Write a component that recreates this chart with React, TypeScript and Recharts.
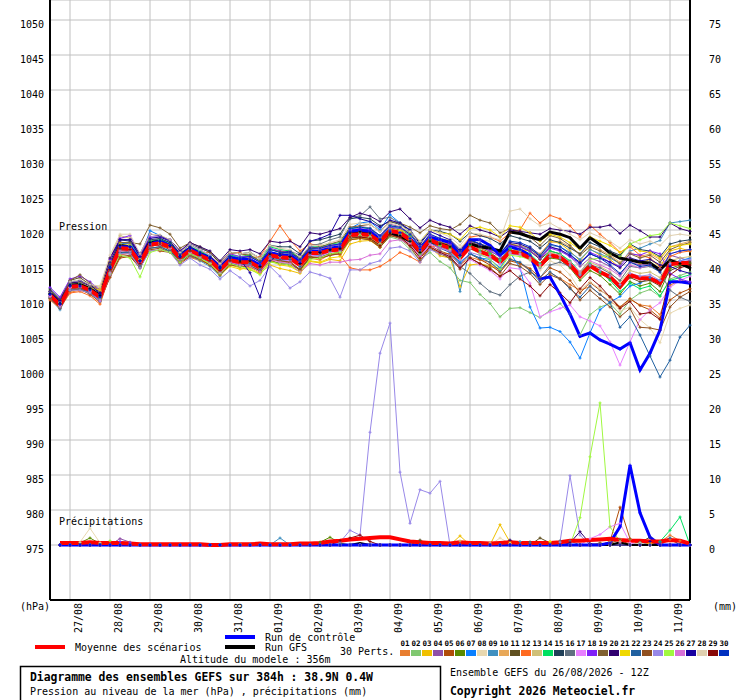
import { ComposedChart, Line, XAxis, YAxis, CartesianGrid } from 'recharts'

const MONO = '"DejaVu Sans Mono", "Liberation Mono", monospace'

// 6-hourly steps from 26/08 12Z (65 points, 384h)
const DATE_TICKS = [2, 6, 10, 14, 18, 22, 26, 30, 34, 38, 42, 46, 50, 54, 58, 62]
const DATE_LABELS = ['27/08', '28/08', '29/08', '30/08', '31/08', '01/09', '02/09', '03/09', '04/09', '05/09', '06/09', '07/09', '08/09', '09/09', '10/09', '11/09']
const PRESSURE_TICKS = [975, 980, 985, 990, 995, 1000, 1005, 1010, 1015, 1020, 1025, 1030, 1035, 1040, 1045, 1050]
const PRECIP_TICKS = [0, 5, 10, 15, 20, 25, 30, 35, 40, 45, 50, 55, 60, 65, 70, 75]

const PERT_COLORS = [
  '#e87e30', '#80c870', '#f0c000', '#9050a8', '#b04c08', '#5a8a00', '#0a80ff', '#e8d8b0', '#4090c0', '#e8a858',
  '#605020', '#ff6a20', '#d0c078', '#00e060', '#204058', '#607080', '#e880ff', '#8020f8', '#806030', '#300070',
  '#f0d800', '#2060a0', '#905020', '#9888e8', '#a0f840', '#d870d8', '#1800a0', '#e0d0b0', '#880808', '#0030c0',
]

// pression (hPa)
const MEAN_P = [1010.7,1009.3,1011.9,1012.0,1011.4,1010.4,1014.3,1017.4,1017.3,1015.3,1017.9,1018.1,1017.6,1016.0,1017.1,1016.4,1015.7,1014.3,1015.7,1015.4,1015.4,1014.6,1016.4,1016.1,1016.0,1015.0,1016.7,1016.7,1017.1,1017.2,1019.3,1019.4,1019.3,1018.3,1019.9,1019.6,1018.6,1016.9,1018.6,1017.9,1017.4,1016.0,1017.6,1016.9,1016.4,1015.4,1016.9,1016.7,1016.0,1014.9,1016.4,1016.1,1015.0,1013.4,1014.9,1014.0,1013.3,1011.9,1013.6,1013.1,1013.1,1012.4,1015.1,1015.3,1015.3]
const CTRL_P = [1010.8,1009.4,1012.0,1012.0,1011.4,1010.4,1014.6,1017.6,1017.6,1015.6,1018.0,1018.4,1017.8,1016.2,1017.4,1016.6,1016.0,1014.6,1016.0,1015.8,1015.8,1015.0,1016.8,1016.4,1016.4,1015.4,1017.0,1017.0,1017.4,1017.6,1019.8,1020.0,1019.8,1018.6,1019.8,1019.6,1018.8,1017.2,1018.9,1018.6,1018.2,1016.4,1018.6,1018.6,1017.8,1016.4,1017.6,1017.2,1016.4,1013.0,1013.3,1010.8,1008.0,1004.8,1005.3,1004.3,1003.7,1003.0,1003.9,1000.0,1002.4,1005.7,1012.6,1012.6,1012.4]
const GFS_P = [1010.9,1009.5,1012.1,1012.2,1011.6,1010.6,1014.6,1017.8,1017.6,1015.6,1018.2,1018.4,1017.8,1016.2,1017.4,1016.6,1016.0,1014.6,1016.0,1015.6,1015.6,1014.8,1016.6,1016.4,1016.2,1015.2,1016.8,1016.8,1017.2,1017.4,1019.6,1019.8,1019.6,1018.6,1019.6,1019.2,1018.4,1016.8,1018.4,1018.0,1017.6,1016.4,1018.0,1017.6,1017.4,1017.0,1019.7,1019.5,1019.0,1018.6,1019.7,1019.4,1018.9,1017.4,1018.9,1017.9,1016.7,1016.0,1015.7,1015.4,1015.3,1014.3,1015.7,1015.2,1014.6]

const P01 = [1010.2,1009.0,1011.1,1011.4,1010.9,1009.6,1013.5,1016.4,1016.7,1014.8,1017.1,1017.1,1017.0,1015.5,1016.1,1015.6,1015.2,1014.0,1015.7,1014.9,1014.6,1014.2,1015.8,1015.1,1015.5,1014.2,1016.0,1015.7,1016.5,1016.8,1019.8,1019.4,1019.0,1017.8,1020.1,1019.2,1017.8,1016.6,1017.6,1016.7,1016.6,1015.0,1016.1,1015.7,1015.4,1013.9,1015.9,1015.2,1014.2,1012.9,1013.9,1013.1,1012.2,1011.4,1011.9,1010.8,1009.8,1008.9,1010.1,1009.3,1009.1,1007.9,1012.1,1012.8,1012.5]
const P02 = [1010.9,1009.6,1012.3,1012.5,1011.6,1010.1,1013.8,1017.0,1017.5,1015.8,1018.3,1018.5,1017.9,1016.4,1017.3,1016.8,1016.2,1014.9,1016.0,1015.6,1015.0,1014.0,1015.5,1015.3,1015.2,1014.4,1016.0,1016.2,1016.6,1016.9,1018.9,1019.0,1018.8,1017.6,1019.0,1018.6,1017.2,1015.8,1016.8,1015.5,1014.6,1012.8,1012.5,1010.8,1009.5,1007.6,1008.8,1008.9,1008.2,1007.5,1008.5,1009.5,1008.0,1005.0,1007.9,1009.0,1009.5,1008.0,1010.0,1011.0,1011.5,1010.5,1013.0,1013.5,1014.0]
const P03 = [1010.5,1009.0,1011.6,1011.8,1011.9,1011.6,1015.5,1018.2,1018.0,1015.6,1018.0,1018.2,1017.3,1015.6,1016.6,1015.8,1015.0,1013.5,1015.0,1014.6,1014.3,1013.8,1015.0,1014.5,1014.2,1013.8,1015.5,1015.3,1015.8,1015.6,1018.0,1018.4,1018.5,1017.5,1019.5,1019.3,1018.2,1016.0,1017.5,1016.3,1016.0,1011.9,1015.0,1015.2,1014.8,1014.5,1016.8,1017.2,1017.0,1016.2,1018.4,1018.1,1017.0,1015.6,1017.3,1016.4,1015.8,1014.6,1016.0,1015.2,1015.8,1014.8,1017.0,1017.4,1017.0]
const P04 = [1011.2,1009.8,1012.5,1012.4,1011.8,1010.6,1014.8,1018.3,1018.0,1015.8,1018.5,1018.7,1018.2,1016.6,1017.8,1017.2,1016.3,1014.8,1016.4,1016.0,1016.2,1015.4,1017.2,1016.9,1016.8,1015.7,1017.4,1017.3,1017.7,1017.9,1020.2,1020.5,1020.3,1019.2,1020.8,1020.5,1019.5,1017.7,1019.4,1018.6,1018.2,1016.8,1018.3,1017.8,1017.2,1016.3,1018.0,1017.6,1017.0,1015.8,1017.5,1017.2,1016.2,1014.8,1016.0,1015.5,1014.8,1013.6,1015.4,1015.0,1015.2,1014.5,1016.4,1016.0,1015.6]
const P05 = [1010.4,1009.1,1011.5,1011.8,1011.0,1009.9,1013.2,1016.0,1016.2,1014.6,1017.2,1017.0,1016.8,1015.2,1016.2,1015.8,1015.0,1013.8,1015.2,1015.0,1014.8,1014.0,1015.8,1015.6,1015.4,1014.2,1016.2,1016.0,1016.4,1016.6,1018.6,1018.8,1018.6,1017.5,1019.2,1019.0,1017.8,1016.2,1017.8,1017.0,1016.5,1015.0,1016.6,1015.8,1015.0,1014.0,1015.6,1015.2,1014.5,1013.2,1014.6,1014.0,1012.8,1011.0,1012.5,1011.4,1010.5,1009.0,1010.2,1009.2,1008.6,1007.4,1010.0,1011.0,1011.6]
const P06 = [1010.6,1009.4,1012.0,1012.3,1011.5,1010.2,1014.0,1017.2,1017.0,1015.0,1017.6,1018.0,1017.5,1016.0,1017.0,1016.2,1015.4,1014.0,1015.4,1015.0,1015.4,1014.6,1016.8,1016.5,1016.4,1015.6,1017.2,1017.0,1017.4,1017.6,1019.8,1020.0,1019.8,1018.8,1020.3,1020.0,1019.0,1017.4,1019.0,1018.2,1017.8,1016.4,1018.0,1017.4,1016.8,1015.8,1017.2,1016.8,1016.0,1014.6,1016.0,1015.8,1014.6,1012.8,1014.2,1013.5,1012.2,1010.8,1012.6,1012.0,1012.4,1011.2,1014.5,1015.0,1015.2]
const P07 = [1010.8,1009.5,1012.2,1012.2,1011.6,1010.8,1014.6,1018.0,1018.2,1016.0,1019.9,1019.2,1018.4,1016.8,1017.9,1017.0,1016.4,1014.6,1016.3,1016.0,1015.8,1015.0,1016.9,1016.4,1016.6,1015.4,1017.0,1016.8,1017.3,1017.6,1020.2,1021.0,1021.2,1020.0,1022.2,1021.0,1019.6,1017.6,1019.0,1018.0,1017.0,1015.4,1016.6,1016.0,1015.8,1014.6,1016.8,1014.6,1009.0,1006.0,1006.1,1005.5,1004.0,1001.7,1005.3,1008.6,1009.7,1010.5,1012.0,1012.4,1013.2,1012.8,1015.0,1015.6,1016.0]
const P08 = [1011.0,1009.8,1012.6,1012.8,1012.0,1011.2,1015.6,1018.8,1019.0,1016.4,1019.0,1019.0,1018.4,1016.6,1017.8,1017.0,1016.2,1015.0,1016.6,1016.2,1016.6,1015.8,1017.8,1017.2,1017.0,1016.0,1017.6,1017.4,1018.0,1018.2,1020.0,1020.4,1020.2,1019.0,1020.6,1020.2,1019.4,1017.8,1019.4,1018.8,1018.6,1017.4,1019.0,1018.6,1018.4,1015.0,1016.6,1016.4,1015.6,1014.2,1015.6,1015.0,1013.6,1011.4,1012.6,1011.6,1010.2,1008.4,1009.0,1007.2,1006.0,1003.9,1008.1,1008.8,1009.3]
const P09 = [1010.2,1008.6,1011.4,1011.6,1011.0,1009.8,1013.6,1016.6,1016.8,1014.6,1017.4,1017.6,1016.9,1015.4,1016.4,1015.6,1014.8,1013.4,1015.2,1014.8,1015.0,1014.2,1016.0,1015.7,1015.6,1014.8,1016.4,1016.3,1016.9,1017.0,1019.0,1019.2,1019.0,1018.0,1019.6,1019.3,1018.4,1016.5,1018.2,1017.6,1017.0,1011.2,1017.3,1016.8,1016.5,1015.8,1017.5,1017.8,1017.2,1016.4,1017.8,1017.6,1016.8,1015.8,1017.2,1016.6,1016.0,1015.2,1017.0,1017.4,1018.0,1018.5,1021.0,1021.2,1021.4]
const P10 = [1010.6,1009.2,1011.8,1011.8,1011.3,1010.6,1014.8,1017.6,1017.4,1015.6,1018.2,1018.3,1017.8,1016.2,1017.3,1016.7,1016.0,1014.6,1016.0,1015.8,1015.8,1015.0,1016.8,1016.6,1016.4,1015.4,1017.0,1017.1,1017.5,1017.6,1019.6,1019.8,1019.6,1018.6,1020.2,1019.9,1019.0,1017.2,1018.9,1018.3,1017.9,1016.5,1018.0,1017.4,1017.0,1016.2,1018.0,1017.8,1017.4,1016.6,1018.2,1018.4,1017.6,1016.6,1017.8,1017.2,1016.4,1015.4,1016.8,1016.2,1016.6,1015.8,1017.6,1018.0,1018.4]
const P11 = [1011.4,1010.0,1012.8,1013.2,1012.2,1011.0,1014.0,1016.8,1017.0,1015.2,1017.8,1017.8,1017.2,1015.8,1016.8,1016.0,1015.2,1013.8,1015.2,1015.0,1014.8,1014.2,1015.6,1015.2,1015.0,1014.4,1016.0,1016.2,1016.6,1016.8,1018.8,1019.0,1018.8,1017.8,1019.4,1019.6,1018.8,1017.0,1018.6,1018.2,1018.0,1017.0,1018.4,1018.0,1017.6,1016.8,1018.0,1017.6,1017.0,1015.8,1017.0,1016.6,1015.4,1013.6,1014.8,1014.0,1013.0,1012.0,1013.2,1012.6,1012.8,1012.0,1014.2,1014.8,1015.4]
const P12 = [1010.0,1008.8,1011.0,1011.2,1010.6,1009.4,1013.6,1016.4,1016.8,1014.8,1017.4,1017.6,1017.4,1016.4,1017.6,1016.8,1016.8,1015.2,1016.6,1016.8,1016.0,1016.2,1018.4,1020.6,1018.6,1017.0,1018.0,1017.8,1017.2,1016.4,1014.6,1014.3,1014.3,1014.8,1015.7,1016.8,1016.2,1015.4,1017.6,1017.8,1018.2,1017.0,1019.0,1019.2,1019.0,1018.4,1019.6,1020.0,1022.4,1021.0,1022.1,1021.6,1020.6,1019.0,1020.7,1019.4,1018.2,1016.8,1017.6,1016.4,1016.0,1014.8,1016.2,1016.8,1017.0]
const P13 = [1011.0,1009.6,1012.4,1012.6,1012.2,1011.8,1016.0,1019.2,1018.8,1016.4,1018.6,1018.4,1017.8,1016.4,1017.4,1016.6,1015.8,1014.6,1016.0,1015.6,1015.6,1014.8,1016.6,1016.2,1016.0,1015.0,1016.8,1016.6,1017.2,1017.4,1019.4,1019.6,1019.4,1018.4,1020.0,1019.8,1018.8,1017.0,1018.8,1018.0,1017.6,1016.2,1018.0,1017.2,1016.6,1015.6,1017.4,1017.0,1016.4,1015.2,1016.8,1016.4,1015.4,1013.8,1015.4,1014.8,1014.0,1012.6,1014.2,1013.8,1014.0,1013.2,1015.6,1016.0,1016.2]
const P14 = [1010.8,1009.4,1012.0,1012.2,1011.5,1010.4,1014.5,1017.8,1017.8,1015.6,1018.4,1018.6,1018.2,1016.6,1017.6,1017.0,1016.2,1014.9,1016.4,1016.2,1016.4,1015.6,1017.6,1017.2,1017.0,1016.0,1017.6,1017.6,1018.0,1018.2,1020.2,1020.4,1020.2,1019.0,1020.6,1020.2,1019.2,1016.8,1018.6,1017.8,1017.4,1016.2,1017.8,1017.0,1016.6,1015.6,1017.4,1017.2,1016.6,1015.2,1017.0,1016.6,1015.6,1014.0,1015.2,1014.0,1012.8,1011.2,1012.4,1011.6,1012.0,1010.6,1012.8,1013.2,1013.6]
const P15 = [1011.6,1010.2,1012.6,1012.4,1011.8,1010.8,1015.0,1018.6,1018.4,1016.2,1018.6,1018.8,1018.2,1016.8,1018.0,1017.4,1016.8,1015.2,1016.8,1016.6,1016.8,1016.0,1017.8,1017.6,1017.6,1016.6,1018.4,1018.6,1019.0,1019.4,1021.6,1021.8,1021.6,1020.6,1021.2,1020.8,1020.0,1018.2,1020.0,1019.8,1019.4,1018.4,1019.6,1019.2,1018.8,1018.0,1019.2,1018.8,1018.4,1017.4,1018.6,1018.2,1017.4,1016.6,1018.2,1017.6,1017.0,1016.4,1018.0,1017.2,1017.0,1016.2,1018.0,1018.4,1018.6]
const P16 = [1010.4,1009.0,1011.6,1011.8,1011.2,1010.2,1014.2,1017.2,1017.0,1015.0,1017.8,1018.0,1017.6,1016.0,1017.2,1016.6,1015.8,1014.4,1016.0,1015.8,1015.8,1015.0,1016.8,1016.6,1016.6,1015.8,1017.8,1018.0,1018.6,1019.0,1021.8,1022.0,1023.3,1021.6,1021.8,1021.0,1019.6,1017.8,1018.8,1017.0,1015.8,1014.8,1013.8,1012.4,1011.2,1010.7,1012.2,1013.4,1014.0,1013.2,1015.0,1015.4,1014.8,1013.6,1015.0,1014.6,1013.8,1012.8,1014.8,1014.6,1014.8,1014.0,1011.4,1010.4,1009.8]
const P17 = [1010.6,1009.2,1011.8,1012.0,1011.4,1010.6,1014.6,1017.8,1017.6,1015.4,1017.8,1018.0,1017.4,1015.8,1016.8,1016.0,1015.2,1013.8,1015.4,1015.0,1015.2,1014.4,1016.2,1015.8,1015.6,1014.8,1016.4,1016.2,1016.8,1017.0,1019.0,1019.2,1019.0,1018.0,1019.6,1019.2,1018.0,1016.2,1017.8,1016.8,1016.2,1014.6,1015.8,1015.0,1014.2,1013.0,1014.6,1014.4,1012.4,1007.6,1008.3,1008.8,1009.3,1007.6,1007.0,1006.3,1004.0,1000.7,1004.0,1007.2,1008.6,1009.6,1011.8,1012.8,1013.4]
const P18 = [1011.8,1010.4,1013.0,1013.4,1012.6,1011.4,1015.8,1018.8,1019.2,1016.4,1019.0,1019.0,1018.6,1017.0,1018.0,1017.2,1016.4,1015.0,1016.6,1016.2,1016.2,1015.4,1017.4,1017.0,1016.8,1015.8,1017.6,1017.4,1017.8,1018.0,1020.0,1020.2,1020.0,1019.0,1020.4,1020.2,1019.4,1017.6,1019.2,1018.6,1018.0,1016.6,1018.2,1017.6,1017.0,1016.2,1017.8,1017.6,1017.0,1016.0,1017.4,1017.0,1016.2,1015.2,1016.8,1016.2,1015.4,1014.8,1016.6,1016.4,1017.0,1016.6,1013.8,1013.0,1012.6]
const P19 = [1011.2,1010.0,1012.8,1013.6,1012.4,1011.2,1015.2,1018.2,1018.2,1018.0,1020.7,1020.3,1019.4,1017.4,1018.2,1017.6,1016.8,1015.4,1016.8,1016.6,1016.4,1015.6,1017.2,1016.9,1016.8,1016.0,1017.4,1017.6,1018.0,1018.4,1020.4,1020.6,1020.8,1019.8,1021.2,1021.0,1020.4,1019.6,1020.6,1020.2,1020.0,1020.8,1022.1,1021.4,1021.0,1019.6,1020.2,1019.8,1019.0,1017.8,1019.2,1018.8,1017.8,1016.4,1017.6,1017.0,1016.2,1015.2,1016.6,1016.0,1016.4,1015.4,1017.2,1017.8,1018.2]
const P20 = [1011.0,1009.8,1012.4,1012.6,1012.0,1011.0,1016.0,1018.6,1018.6,1016.6,1019.4,1019.2,1018.6,1017.0,1018.2,1017.6,1017.0,1015.6,1017.2,1017.0,1017.2,1016.6,1018.4,1018.2,1018.4,1017.6,1019.6,1019.4,1019.8,1020.2,1021.8,1022.4,1022.0,1021.2,1022.6,1023.0,1021.6,1020.3,1021.4,1020.8,1020.4,1019.4,1020.6,1020.0,1019.6,1019.0,1020.0,1019.8,1019.6,1019.4,1020.2,1020.0,1019.8,1019.4,1020.4,1020.4,1020.7,1019.5,1020.7,1019.9,1019.0,1019.0,1021.0,1020.2,1019.8]
const P21 = [1010.8,1009.6,1012.2,1012.4,1011.8,1011.4,1015.4,1018.0,1017.8,1015.8,1018.0,1018.0,1017.6,1015.8,1016.6,1015.8,1015.2,1013.6,1014.8,1014.4,1014.6,1013.8,1015.6,1015.0,1014.8,1014.0,1015.6,1015.4,1016.0,1016.2,1018.6,1018.8,1018.8,1017.8,1019.8,1020.0,1019.6,1018.4,1020.0,1019.6,1019.4,1018.6,1020.2,1020.4,1020.0,1019.0,1020.6,1020.4,1019.6,1018.4,1019.4,1019.0,1018.2,1017.2,1019.0,1018.4,1017.8,1016.8,1017.8,1017.0,1016.8,1016.0,1017.6,1017.8,1018.0]
const P22 = [1010.4,1008.8,1011.4,1011.6,1011.0,1010.0,1013.8,1016.8,1016.8,1014.8,1017.4,1017.6,1017.0,1015.6,1016.6,1016.0,1015.4,1014.0,1015.4,1015.0,1015.2,1014.4,1016.2,1015.8,1015.8,1014.8,1016.6,1016.6,1017.0,1017.2,1019.4,1019.6,1019.4,1018.4,1020.0,1019.6,1018.4,1016.6,1018.2,1017.4,1016.8,1015.2,1016.6,1016.0,1015.4,1014.2,1015.8,1015.4,1014.2,1012.6,1014.0,1013.0,1011.6,1010.4,1012.0,1010.8,1009.6,1006.1,1007.6,1005.0,1002.0,999.0,1001.4,1004.7,1006.4]
const P23 = [1010.2,1008.9,1011.3,1011.6,1010.8,1009.8,1013.4,1016.2,1016.4,1014.6,1017.2,1017.4,1016.8,1015.4,1016.4,1015.8,1015.0,1013.6,1015.0,1014.8,1014.8,1014.0,1015.8,1015.6,1015.4,1014.4,1016.2,1016.0,1016.4,1016.6,1018.6,1018.8,1018.6,1017.6,1019.2,1018.8,1017.6,1015.6,1017.4,1016.6,1016.0,1014.4,1016.0,1015.2,1014.6,1013.4,1015.2,1014.8,1013.8,1012.2,1013.6,1013.0,1011.8,1010.0,1011.4,1010.2,1009.0,1007.6,1008.8,1006.1,1006.0,1005.7,1009.0,1010.4,1011.2]
const P24 = [1010.6,1009.0,1011.4,1011.4,1011.0,1009.8,1013.6,1016.6,1016.6,1014.6,1017.0,1017.2,1016.8,1015.0,1016.0,1015.0,1014.4,1013.0,1014.2,1013.2,1012.0,1012.8,1014.8,1013.4,1011.7,1012.6,1014.0,1013.6,1013.1,1010.4,1014.3,1014.3,1015.2,1015.6,1017.4,1017.6,1017.0,1015.4,1017.2,1016.6,1016.4,1015.0,1016.8,1016.4,1016.0,1015.2,1016.6,1016.4,1015.8,1014.6,1016.2,1016.0,1015.0,1013.6,1015.0,1014.2,1013.4,1012.2,1013.8,1013.4,1013.6,1012.8,1015.2,1015.6,1015.8]
const P25 = [1010.9,1009.5,1012.0,1012.1,1011.3,1010.3,1013.8,1016.4,1016.0,1013.3,1016.8,1017.2,1016.8,1015.4,1016.6,1016.0,1015.2,1013.8,1015.2,1014.8,1014.4,1013.6,1015.4,1015.2,1015.0,1014.0,1015.8,1016.0,1016.6,1016.8,1019.0,1019.2,1019.0,1018.0,1019.6,1019.4,1018.6,1016.6,1018.4,1017.8,1017.2,1015.8,1017.4,1016.6,1015.8,1014.4,1016.4,1016.2,1015.8,1014.8,1016.6,1016.4,1015.4,1014.0,1015.8,1016.0,1016.6,1016.2,1018.0,1018.6,1019.2,1019.4,1021.0,1020.6,1020.2]
const P26 = [1010.5,1009.2,1011.8,1011.9,1011.2,1010.0,1013.9,1017.0,1017.0,1015.2,1017.7,1017.9,1017.4,1015.8,1016.8,1016.2,1015.4,1014.0,1015.4,1015.0,1014.8,1014.0,1015.8,1015.4,1015.2,1014.0,1015.2,1015.0,1015.4,1015.4,1015.7,1015.8,1016.4,1016.6,1018.4,1018.6,1018.0,1016.2,1018.0,1017.4,1017.0,1015.8,1017.4,1016.8,1016.2,1015.2,1016.8,1016.6,1016.0,1015.0,1016.6,1016.4,1015.4,1014.0,1015.6,1015.0,1014.4,1013.4,1015.0,1014.6,1015.0,1014.4,1016.6,1017.0,1017.2]
const P27 = [1011.2,1009.9,1012.6,1012.8,1012.2,1011.0,1015.4,1018.6,1018.6,1016.2,1018.8,1019.0,1018.4,1016.6,1017.6,1016.8,1016.0,1014.6,1016.2,1015.8,1013.9,1010.4,1015.6,1016.6,1017.0,1016.4,1018.4,1018.8,1019.4,1022.1,1022.1,1021.6,1021.2,1020.4,1021.4,1021.0,1020.0,1018.0,1019.8,1019.2,1018.6,1017.2,1018.6,1018.0,1017.4,1016.6,1018.2,1018.0,1017.4,1016.2,1017.6,1017.2,1016.4,1015.4,1016.6,1016.0,1015.4,1014.6,1016.0,1015.6,1015.8,1015.0,1014.8,1014.2,1013.8]
const P28 = [1011.0,1009.6,1012.6,1012.9,1012.2,1012.0,1016.4,1019.4,1019.4,1016.6,1019.4,1019.3,1018.6,1016.8,1018.0,1017.2,1016.4,1015.2,1016.8,1016.6,1016.8,1016.0,1017.8,1017.4,1017.2,1016.2,1017.8,1017.8,1018.2,1018.6,1020.8,1021.0,1020.8,1019.8,1021.0,1020.6,1019.8,1018.4,1020.0,1019.6,1019.0,1017.8,1019.6,1019.4,1019.0,1018.6,1022.7,1023.0,1021.6,1020.6,1021.0,1020.2,1019.4,1018.6,1019.6,1019.0,1018.4,1017.4,1018.6,1018.0,1018.4,1017.8,1019.2,1019.4,1019.2]
const P29 = [1010.8,1009.4,1012.0,1012.0,1011.6,1010.6,1014.4,1017.4,1017.2,1015.2,1017.8,1018.0,1017.6,1016.0,1017.0,1016.4,1015.6,1014.2,1015.6,1015.4,1015.6,1014.8,1016.6,1016.4,1016.2,1015.2,1016.8,1016.8,1017.2,1017.4,1019.0,1019.0,1018.8,1017.8,1019.4,1019.0,1017.8,1016.0,1017.6,1016.8,1016.2,1014.6,1016.0,1015.2,1014.4,1013.4,1014.2,1013.0,1012.0,1010.6,1012.2,1011.0,1009.6,1011.6,1013.2,1012.0,1010.4,1008.8,1009.8,1008.0,1008.2,1007.2,1013.6,1014.6,1015.0]
const P30 = [1010.9,1009.6,1012.2,1012.3,1011.7,1010.7,1014.8,1017.8,1017.6,1015.6,1018.2,1018.4,1017.8,1016.4,1017.4,1016.8,1016.2,1014.8,1016.2,1016.0,1016.2,1015.4,1017.2,1016.8,1016.8,1015.8,1017.4,1017.4,1017.8,1018.0,1020.2,1020.4,1020.2,1019.2,1020.6,1020.4,1019.4,1017.6,1019.4,1018.8,1018.4,1017.0,1018.6,1018.0,1017.4,1016.6,1018.4,1018.2,1017.6,1016.4,1018.0,1017.6,1016.6,1015.2,1016.6,1016.0,1015.0,1013.8,1015.4,1014.8,1015.0,1014.0,1016.6,1017.0,1017.2]

// précipitations (mm), pas de cumul à l'échéance 0
const MEAN_R = [null,0.3,0.3,0.3,0.4, 0.3,0.3,0.3,0.2,0.1, 0.1,0.1,0.1,0.1,0.1, 0.1,0,0,0.1,0.1, 0.1,0.2,0.1,0.1,0.1, 0.2,0.2,0.3,0.5,0.6, 0.8,0.9,1.0,1.1,1.1, 0.8,0.5,0.4,0.3,0.3, 0.2,0.4,0.3,0.3,0.2, 0.3,0.4,0.3,0.3,0.3, 0.3,0.4,0.6,0.6,0.7, 0.8,0.9,0.7,0.6,0.6, 0.5,0.5,0.7,0.6,0.2]
const CTRL_R = [null,0,0,0,0, 0,0,0,0,0, 0,0,0,0,0, 0,0,0,0,0, 0,0,0,0,0, 0,0,0,0,0, 0,0,0,0,0, 0,0,0,0,0, 0,0,0,0,0, 0,0,0,0,0, 0,0,0,0,0, 0,0.3,2.6,11.4,4.6, 1.1,0,0,0,0]
const GFS_R = [null,0,0,0,0, 0,0,0,0,0, 0,0,0,0,0, 0,0,0,0,0, 0,0,0,0,0, 0,0,0,0,0, 0,0.3,0,0,0, 0,0,0,0,0, 0,0,0,0,0, 0,0,0,0,0, 0,0,0,0,0, 0,0,0.4,0,0, 0,0,0,0,0]

const R01 = [null,0,0,0,0, 0,0,0,0,0, 0,0,0,0,0, 0,0,0,0,0.2, 0,0,0,0,0, 0,0,0,0,0, 0,0,0,0,0, 0,0,0,0,0, 0,0,0,0,0, 0,0,0,0,0, 0,0,0,0,0, 0,0,0,0,0, 0,0.4,1.4,0.6,0]
const R02 = [null,0,0,0,0, 0,0,0,0,0, 0,0,0,0,0, 0,0,0,0,0, 0,0,0,0,0, 0,0,0,0,0, 0,0,0,0,0, 0,0,0,0,0, 0,0,0,0,0, 0,0,0,0,0, 0,0,0,0,0, 0,0,0,0.8,0.3, 0,0,0,0,0]
const R03 = [null,0,0,0,0, 0,0,0,0,0, 0,0,0,0,0, 0,0,0,0,0, 0,0,0,0,0, 0,0,0,0,0, 0,0,0,0,0, 0,0,0,0,0, 0,1.3,0,0,0, 2.9,0.4,0,0,0, 0.4,0,0,0,0, 0,0,0,0,0, 0,0,0,0,0]
const R04 = [null,0,0,0,0, 0,0,0.9,0.4,0, 0,0,0,0,0, 0,0,0,0,0, 0,0,0,0,0, 0,0,0,0,0, 0,0,0,0,0, 0,0,0,0,0, 0,0,0,0,0, 0,0,0,0,0, 0,0,0,0,0, 0,0,0,0,0, 0,0,0,0,0]
const R05 = [null,0,0,0,0, 0,0,0,0,0, 0,0,0,0,0, 0,0,0,0,0, 0,0,0,0,0, 0,0,0,0,0, 0,0,0,0,0, 0,0,0,0,0, 0,0,0,0,0, 0,0,0,0,0, 0,0,0,0,0, 0,0.5,5.4,0.9,0, 0,0,0,0,0]
const R06 = [null,0,0,0.3,1.0, 0.2,0,0,0,0, 0,0,0,0,0, 0,0,0,0,0, 0,0,0,0,0, 0,0,0.4,1.1,0.3, 0,0,0,0,0, 0,0,0,0,0, 0,0,0,0,0, 0,0,0,0,0, 0,0,0,0,0, 0,0,0,0,0, 0,0,0,0,0]
const R07 = [null,0,0,0,0, 0,0,0,0,0, 0,0,0,0,0, 0,0,0,0,0, 0,0,0,0,0, 0,0,0,0,0, 0,0,0,0,0, 0,0,0,0,0, 0,0,0,0,0, 0,0,0,0,0, 0,0,0,0,0, 0,0,0,0,0.3, 0,0,0,0,0]
const R08 = [null,0,0,0.4,2.4, 0.3,0,0,0,0, 0,0,0,0,0, 0,0,0,0,0, 0,0,0,0,0, 0,0,0,0,0, 0,0,0,0,0, 0,0,0,0,0, 0,0,0,0,0, 1.0,0.2,0,0,0, 0,0,0,0,0, 0,0,0,0,0, 0,0,0,0,0]
const R09 = [null,0,0,0,0, 0,0,0,0,0, 0,0,0,0,0, 0,0,0,0,0, 0,0,0,1.0,0, 0,0,0,0,0, 0,0,0,0,0, 0,0,0,0,0, 0,0,0,0,0, 0,0,0.5,0,0, 0,0,0,0,0, 0,0,0,0,0, 0,0,0,0,0]
const R10 = [null,0,0,0,0, 0,0,0,0,0, 0,0,0,0,0, 0,0,0,0,0, 0,0,0,0,0, 0,0,0,0,0, 0,0,0,0,0, 0,0,0,0,0, 0,0,0,0,0, 0,0,0,0,0, 0,0,0,0,0, 0,0.4,0.8,0,0, 0,0,0,0,0]
const R11 = [null,0,0,0,0, 0,0,0,0,0, 0,0,0,0,0, 0,0,0,0,0, 0,0,0,0,0, 0,0,0,0,0, 0,0,0,0,0, 0,0,0.7,0,0, 0,0,0,0,0, 0,0,0,0,1.0, 0.3,0,0,0,0, 0,0,0,0,0.4, 1.1,0,0,0,0]
const R12 = [null,0,0,0,0, 0,0,0,0,0, 0,0,0,0,0, 0,0,0,0,0, 0,0,0,0,0, 0,0,0,0,0, 0,0,0,0,0, 0,0,0,0,0, 0,0,0,0,0, 0,0,0,0,0, 0,0,0,0,0, 0,0,0,0,0, 0,0,0.8,0,0]
const R13 = [null,0,0,0,0, 0,0,0,0,0, 0,0,0,0,0, 0,0,0,0,0, 0,0,0,0,0, 0,0,0,0,0, 0,0,0,0,0, 0,0,0,0,0, 0,0.6,0,0,0.3, 0,0,0,0,0, 0,0,0,0,0, 0,0,0,0,0, 0,0,0,0,0]
const R14 = [null,0,0,0,0, 0,0,0,0,0, 0,0,0,0,0, 0,0,0,0,0, 0,0,0,0,0, 0,0,0,0,0, 0,0,0,0,0, 0,0,0,0,0, 0,0,0,0,0, 0,0,0,0,0, 0,0,0,0,0, 0,0,0,0,0, 0,0.5,2.1,4.0,0]
const R15 = [null,0,0,0,0, 0,0,0,0,0, 0,0,0,0,0, 0,0,0,0,0, 0,0,0,0,0, 0,0,0,0,0, 0,0,0,0,0, 0,0,0,0,0, 0,0,0,0,0, 0,0,0,0.4,0, 0,0,0,0,0, 0,0,0,0,0, 0,0,0,0,0]
const R16 = [null,0,0,0,0, 0,0,0,0,0, 0,0,0,0,0, 0,0,0,0,0, 0,0,0,0,0, 0,0,0,0,0, 0,0,0,0,0, 0,0,0,0,0, 0,0,0,0,0, 0,0,0,0.4,0, 0,0.6,0.6,0,0, 0,0,0,0,0, 0,0,0,0,0]
const R17 = [null,0,0,0,0, 0,0,0,0,0, 0,0,0,0,0, 0,0,0,0,0, 0,0,0,0,0, 0,0,0,0,0, 0,0,0,0,0, 0,0,0,0,0, 0,0,0,0,0, 0,0,0,0,0, 0,0,0,0,0.9, 1.5,2.6,3.1,0.3,0, 0,0,0,0,0]
const R18 = [null,0,0,0,0, 0,0,0.5,0.3,0, 0,0,0,0,0, 0,0,0,0,0, 0,0,0,0,0, 0,0,0,0,0, 0,0,0,0,0, 0,0,0,0,0, 0,0,0,0,0, 0,0,0,0,0, 0,0,0,0,0, 0,0,0,0,0, 0,0,0,0,0]
const R19 = [null,0,0,0,0, 0,0,0,0,0, 0,0,0,0,0, 0,0,0,0,0, 0,0,0,0,0, 0,0,0,0,0, 0,0,0,0,0, 0,0,0,0,0, 0,0,0,0,0, 0,0,0,0,0, 0,0,0,0,0, 0.3,0,0,0,0, 0,0,0,0,0]
const R20 = [null,0,0,0,0, 0,0,0,0,0, 0,0,0,0,0, 0,0,0,0,0, 0,0,0,0,0, 0,0,0,0,0, 0,0,0,0,0, 0,0,0,0,0, 0,0,0,0,0, 0,0.7,0,0,0, 0,0,0.3,1.9,0.2, 0,0,0,0,0, 0,0,0,0,0]
const R21 = [null,0,0,0,0, 0,0,0,0,0, 0,0,0,0,0, 0,0,0,0,0, 0,0,0,0,0, 0,0,0,0,0, 0,0,0,0,0, 0,0,0,0,0, 0,0,0,0,0, 0,0,0,0,0, 0.5,0,0,0,0, 0,0,0,0,0, 0.3,0,0,0,0]
const R22 = [null,0,0,0,0, 0,0,0,0,0, 0,0,0,0,0, 0,0,0,0,0, 0,0,0,0,0, 0,0,0,0,0, 0,0,0,0,0, 0,0,0,0,0, 0,0,0,0,0, 0,0,0,0,0, 0,0,0,0,0, 0,0,0,0,0, 0,0.4,1.0,0,0]
const R23 = [null,0,0,0,0, 0,0,0,0,0, 0,0,0,0,0, 0,0,0,0,0, 0,0,0,0,0, 0,0,0,0,0, 0,0,0,0,0, 0,0,0,0,0, 0,0,0,0,0, 0,0,0,0,0, 0,0,0,0,0, 0,0.2,0.8,0,0, 0,0,0,0,0]
const R24 = [null,0,0,0,0, 0,0,0,0,0, 0,0,0,0,0, 0,0,0,0,0, 0,0,0,0,0, 0,0,0,0,0.4, 2.1,1.4,16.1,27.4,31.7, 10.4,3.1,7.9,7.4,9.1, 0,0,0,0,0, 0,0,0,0,0, 0,0.4,9.9,1.4,0, 0,0,0,0,0, 0,0,0,0,0]
const R25 = [null,0,0,0,0, 0,0.6,0,0,0, 0,0,0,0,0, 0,0,0,0,0, 0,0,0,0,0, 0,0,0,0,0, 0,0,0,0,0, 0,0,0,0,0, 0,0,0,0,0, 0,0,0,0,0, 0,0,0,3.9,12.6, 20.3,2.6,0.5,0,0, 0,0,0,0,0]
const R26 = [null,0,0,0,0, 0,0,0,0,0, 0,0,0,0,0, 0,0,0,0,0, 0,0,0,0,0, 0,0,0,0,0, 0,0,0,0,0, 0,0,0,0,0, 0,0,0,0,0, 0,0,0,0,0, 0,0,0,0,0, 0,0,0.4,0,0, 0,0,0,0,0]
const R27 = [null,0,0,0,0, 0,0,0,0,0, 0,0,0,0,0, 0,0,0,0,0, 0,0,0,0,0, 0,0,0,0,0, 0,0,0,0,0, 0,0,0,0,0, 0,0,0,0,0, 0,0,0,0,0, 0,0,0,0,0, 0,0,0,0,0, 0.5,0,0,0,0]
const R28 = [null,0,0,0,0, 0,0,0,0,0, 0,0,0,0,0, 0,0,0,0,0, 0,0,0,0,0, 0,0,0,0,0, 0,0,0,0,0, 0,0,0,0,0, 0,0,0,0,0, 0,0,0,0,0, 0,0,0,0,0, 0,0,0,0,0.3, 0,0,0,0,0]
const R29 = [null,0,0,0,0, 0,0,0,0,0, 0,0,0,0,0, 0,0,0,0,0, 0,0,0,0,0, 0,0,0,0,0.6, 1.0,1.4,0.5,0,0, 0,0,0,0,0, 0,0,0,0,0, 0,0,0,0,0, 0,0,0,0,0, 0,0,0,0,0, 0,0,0,0,0]
const R30 = [null,0,0,0,0, 0,0,0,0,0, 0,0,0,0,0, 0,0,0,0,0, 0,0,0,0,0, 0,0,0,0,0, 0,0,0,0,0, 0,0,0,0,0, 0,0,0,0,0, 0,0,0,0,0, 0,0,0,0,0, 0,0,0,0,0, 0,0,0,0,0]

const PERTS_P = [P01, P02, P03, P04, P05, P06, P07, P08, P09, P10, P11, P12, P13, P14, P15, P16, P17, P18, P19, P20, P21, P22, P23, P24, P25, P26, P27, P28, P29, P30]
const PERTS_R = [R01, R02, R03, R04, R05, R06, R07, R08, R09, R10, R11, R12, R13, R14, R15, R16, R17, R18, R19, R20, R21, R22, R23, R24, R25, R26, R27, R28, R29, R30]

const rows = MEAN_P.map((mean, i) => {
  const row: Record<string, number | null> = {
    step: i, mean, ctrl: CTRL_P[i], gfs: GFS_P[i],
    rmean: MEAN_R[i], rctrl: CTRL_R[i], rgfs: GFS_R[i],
  }
  PERTS_P.forEach((s, k) => {
    row[`p${k}`] = s[i]
    row[`r${k}`] = PERTS_R[k][i]
  })
  return row
})

// small "+" marker at each step
function crossDot(color: string) {
  return (props: any) => {
    const { cx, cy, index } = props
    if (cx == null || cy == null || Number.isNaN(cy)) return <g key={index} />
    return (
      <path key={index} d={`M${cx - 1.5},${cy}h3M${cx},${cy - 1.5}v3`} stroke={color} strokeWidth={1} fill="none" />
    )
  }
}

const LeftTick = ({ y, payload }: any) => (
  <text x={44} y={y + 7.5} textAnchor="end" fontSize={10} fontFamily={MONO} fill="#000">{payload.value}</text>
)

const RightTick = ({ y, payload }: any) => (
  <text x={709} y={y + 7.5} textAnchor="start" fontSize={10} fontFamily={MONO} fill="#000">{payload.value}</text>
)

const DateTick = ({ x, payload }: any) => (
  <text transform={`translate(${x + 12},603) rotate(-90)`} textAnchor="end" fontSize={10} fontFamily={MONO} fill="#000">
    {DATE_LABELS[DATE_TICKS.indexOf(payload.value)]}
  </text>
)

function Legend() {
  const t = { fontFamily: MONO, fontSize: 10, fill: '#000' }
  return (
    <svg width={740} height={700} style={{ position: 'absolute', left: 0, top: 0, pointerEvents: 'none' }}>
      <text x={59} y={230} {...t}>Pression</text>
      <text x={59} y={525} {...t}>Précipitations</text>
      <text x={20} y={610} {...t}>(hPa)</text>
      <text x={713} y={610} {...t}>(mm)</text>

      <rect x={35} y={645} width={30} height={4} fill="#ff0000" />
      <text x={75} y={651} {...t}>Moyenne des scénarios</text>
      <rect x={225} y={635} width={30} height={4} fill="#0000ff" />
      <text x={265} y={641} {...t}>Run de contrôle</text>
      <rect x={225} y={645} width={30} height={4} fill="#000" />
      <text x={265} y={651} {...t}>Run GFS</text>
      <text x={340} y={655} {...t}>30 Perts.</text>
      <text x={180} y={663} {...t}>Altitude du modele : 356m</text>

      {PERT_COLORS.map((c, k) => (
        <g key={c + k}>
          <text x={405 + 11 * k} y={646} textAnchor="middle" fontFamily={MONO} fontSize={7.5} fontWeight="bold" fill="#000">
            {String(k + 1).padStart(2, '0')}
          </text>
          <rect x={400 + 11 * k} y={650} width={10} height={6} fill={c} />
        </g>
      ))}

      <rect x={20.5} y={666.5} width={420} height={40} fill="none" stroke="#000" strokeWidth={1.5} />
      <text x={30} y={681} fontFamily={MONO} fontSize={11.4} fontWeight="bold" fill="#000">
        Diagramme des ensembles GEFS sur 384h : 38.9N 0.4W
      </text>
      <text x={30} y={695} {...t}>Pression au niveau de la mer (hPa) , précipitations (mm)</text>
      <text x={450} y={676} {...t}>Ensemble GEFS du 26/08/2026 - 12Z</text>
      <text x={450} y={695} fontFamily={MONO} fontSize={11.4} fontWeight="bold" fill="#000">Copyright 2026 Meteociel.fr</text>
    </svg>
  )
}

export default function App() {
  return (
    <div style={{ position: 'relative', width: 740, height: 700, background: '#fff' }}>
      <style>{'body{margin:0;background:#fff}'}</style>
      <ComposedChart width={740} height={700} data={rows} margin={{ top: 0, right: 0, bottom: 0, left: 0 }}>
        <CartesianGrid yAxisId="p" stroke="#c0c0c0" strokeWidth={1} />
        <XAxis
          dataKey="step" type="number" domain={[0, 64]} ticks={DATE_TICKS} interval={0}
          height={100} tickLine={false} axisLine={{ stroke: '#000', strokeWidth: 2 }} tick={<DateTick />}
        />
        <YAxis
          yAxisId="p" orientation="left" width={50} type="number" domain={[967.142857, 1052.857143]}
          ticks={PRESSURE_TICKS} interval={0} allowDataOverflow tickLine={false}
          axisLine={{ stroke: '#000', strokeWidth: 2 }} tick={<LeftTick />}
        />
        <YAxis
          yAxisId="r" orientation="right" width={50} type="number" domain={[-7.857143, 77.857143]}
          ticks={PRECIP_TICKS} interval={0} allowDataOverflow tickLine={false}
          axisLine={{ stroke: '#000', strokeWidth: 2 }} tick={<RightTick />}
        />

        {PERT_COLORS.map((c, k) => (
          <Line key={`p${k}`} yAxisId="p" dataKey={`p${k}`} type="linear" stroke={c} strokeWidth={1}
            dot={crossDot(c)} activeDot={false} isAnimationActive={false} />
        ))}
        {PERT_COLORS.map((c, k) => (
          <Line key={`r${k}`} yAxisId="r" dataKey={`r${k}`} type="linear" stroke={c} strokeWidth={1}
            dot={crossDot(c)} activeDot={false} isAnimationActive={false} />
        ))}

        <Line yAxisId="p" dataKey="gfs" type="linear" stroke="#000" strokeWidth={3} dot={crossDot('#000')} activeDot={false} isAnimationActive={false} />
        <Line yAxisId="r" dataKey="rgfs" type="linear" stroke="#000" strokeWidth={2} dot={false} activeDot={false} isAnimationActive={false} />
        <Line yAxisId="p" dataKey="ctrl" type="linear" stroke="#0000ff" strokeWidth={3} dot={crossDot('#0000ff')} activeDot={false} isAnimationActive={false} />
        <Line yAxisId="r" dataKey="rctrl" type="linear" stroke="#0000ff" strokeWidth={3} dot={crossDot('#0000ff')} activeDot={false} isAnimationActive={false} />
        <Line yAxisId="p" dataKey="mean" type="linear" stroke="#ff0000" strokeWidth={4} dot={false} activeDot={false} isAnimationActive={false} />
        <Line yAxisId="r" dataKey="rmean" type="linear" stroke="#ff0000" strokeWidth={4} dot={false} activeDot={false} isAnimationActive={false} />
      </ComposedChart>
      <Legend />
    </div>
  )
}
